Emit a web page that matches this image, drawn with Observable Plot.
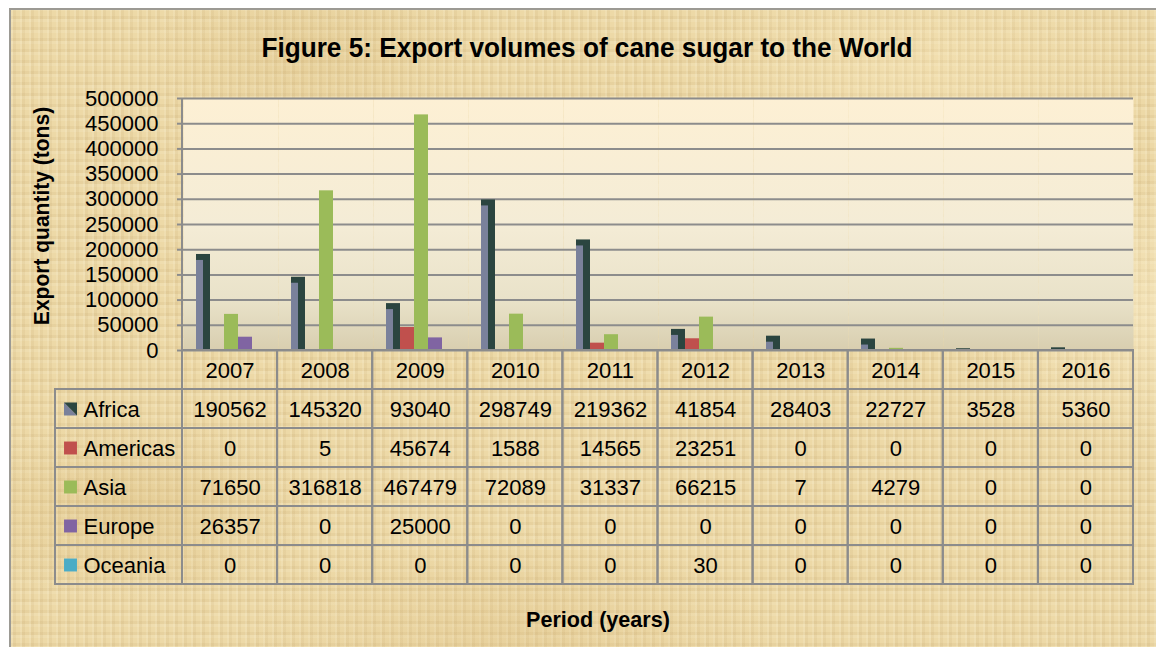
<!DOCTYPE html>
<html>
<head>
<meta charset="utf-8">
<script src="https://cdn.jsdelivr.net/npm/d3@7"></script>
<script src="https://cdn.jsdelivr.net/npm/@observablehq/plot@0.6"></script>
<style>
  html, body { margin: 0; padding: 0; background: #fff; }
  #wrap { position: relative; width: 1156px; height: 647px; overflow: hidden; background: #fff;
    font-family: "Liberation Sans", Arial, sans-serif; }
  #paper { position: absolute; left: 9px; top: 8px; width: 1160px; height: 650px;
    border-left: 2px solid #9c9a94; border-top: 2px solid #9c9a94;
    background-color: #edd9a7;
    background-image:
      radial-gradient(ellipse 180px 90px at 120px 500px, rgba(205,170,100,0.25), transparent),
      radial-gradient(ellipse 220px 120px at 900px 60px, rgba(255,240,200,0.25), transparent),
      radial-gradient(ellipse 200px 140px at 1140px 300px, rgba(255,245,215,0.35), transparent),
      radial-gradient(ellipse 260px 100px at 500px 620px, rgba(210,175,110,0.2), transparent),
      radial-gradient(ellipse 160px 80px at 300px 40px, rgba(200,165,95,0.18), transparent),
      repeating-linear-gradient(90deg, rgba(255,250,230,0.14) 0 2px, rgba(150,110,50,0.07) 2px 5px, transparent 5px 9px),
      repeating-linear-gradient(0deg, rgba(255,250,230,0.12) 0 3px, rgba(150,110,50,0.07) 3px 6px, transparent 6px 11px);
  }
  .abs { position: absolute; }
  #title { left: 587px; top: 48px; transform: translate(-50%, -50%) scaleX(0.935); white-space: nowrap;
    font-weight: bold; font-size: 28px; color: #000; }
  #ytitle { left: 42px; top: 216px; transform: translate(-50%, -50%) rotate(-90deg) scaleX(0.955); white-space: nowrap;
    font-weight: bold; font-size: 22px; color: #000; }
  #xtitle { left: 598px; top: 620px; transform: translate(-50%, -50%) scaleX(0.98); white-space: nowrap;
    font-weight: bold; font-size: 22px; color: #000; }
  #chart, #table { position: absolute; left: 0; }
  #chart { top: 0; }
  #table { top: 348px; }
</style>
</head>
<body>
<div id="wrap">
  <div id="paper"></div>
  <div id="chart"></div>
  <div id="table"></div>
  <div id="title" class="abs">Figure 5: Export volumes of cane sugar to the World</div>
  <div id="ytitle" class="abs">Export quantity (tons)</div>
  <div id="xtitle" class="abs">Period (years)</div>
</div>
<script>
// ---- data ----
const years = ["2007","2008","2009","2010","2011","2012","2013","2014","2015","2016"];
const series = ["Africa","Americas","Asia","Europe","Oceania"];
const africa   = [190562,145320,93040,298749,219362,41854,28403,22727,3528,5360];
const americas = [0,5,45674,1588,14565,23251,0,0,0,0];
const asia     = [71650,316818,467479,72089,31337,66215,7,4279,0,0];
const europe   = [26357,0,25000,0,0,0,0,0,0,0];
const oceania  = [0,0,0,0,0,30,0,0,0,0];
const yTicks = [0,50000,100000,150000,200000,250000,300000,350000,400000,450000,500000];

const seriesColors = ["#2b4540","#c0504d","#9bbb59","#8064a2","#4bacc6"];
const africaLight = "#7a819b";
const gridColor = "#8c8c8c";
const FONT = '"Liberation Sans", Arial, sans-serif';

const valuesBySeries = {Africa: africa, Americas: americas, Asia: asia, Europe: europe, Oceania: oceania};
const rows = [];
series.forEach(s => years.forEach((yr, i) => rows.push({series: s, year: yr, i, value: valuesBySeries[s][i]})));
const africaRows = rows.filter(d => d.series === "Africa");
const otherRows = rows.filter(d => d.series !== "Africa");

// ---- chart ----
const chart = Plot.plot({
  width: 1156,
  height: 352,
  marginLeft: 182,
  marginRight: 23,
  marginTop: 98,
  marginBottom: 2,
  style: {fontFamily: FONT, background: "transparent", overflow: "visible"},
  fx: {domain: years, padding: 0, axis: null},
  x: {domain: series, paddingInner: 0, paddingOuter: 0.75, axis: null},
  y: {domain: [0, 500000], axis: null},
  color: {domain: series, range: seriesColors},
  marks: [
    Plot.frame({fill: "url(#plotgrad)", stroke: "none"}),
    Plot.gridY(yTicks, {stroke: gridColor, strokeOpacity: 1, strokeWidth: 2}),
    Plot.axisY({ticks: yTicks, tickSize: 6, tickPadding: 19, stroke: gridColor, strokeWidth: 2,
      fill: "#000", fontSize: 22, label: null, tickFormat: d => String(d)}),
    Plot.barY(otherRows, {fx: "year", x: "series", y: "value", fill: "series"}),
    Plot.barY(africaRows, {fx: "year", x: "series", y: "value", fill: seriesColors[0]}),
    Plot.barY(africaRows, {fx: "year", x: "series", y: "value", fill: africaLight, insetRight: 7, insetTop: 6})
  ]
});
// vertical gradient for plot area
const svgNS = "http://www.w3.org/2000/svg";
const defs = document.createElementNS(svgNS, "defs");
defs.innerHTML = `<linearGradient id="plotgrad" x1="0" y1="0" x2="0" y2="1">
  <stop offset="0" stop-color="#fdf0d4"/>
  <stop offset="0.5" stop-color="#f4ecd6"/>
  <stop offset="0.8" stop-color="#e9e2c9"/>
  <stop offset="1" stop-color="#d8ceaf"/></linearGradient>`;
chart.insertBefore(defs, chart.firstChild);
document.getElementById("chart").appendChild(chart);
// left edge of the plot area
d3.select(chart).append("line")
  .attr("x1", 182).attr("x2", 182).attr("y1", 98).attr("y2", 351)
  .attr("stroke", gridColor).attr("stroke-width", 2);

// ---- data table ----
const LW = 127 / 95.1; // width of the legend column in year units
const rowKeys = ["hdr", ...series];
const cells = [];
years.forEach((yr, i) => cells.push({row: "hdr", i0: i, i1: i + 1, label: yr}));
rows.forEach(d => cells.push({row: d.series, i0: d.i, i1: d.i + 1, label: String(d.value)}));
const legendCells = series.map(s => ({row: s, i0: -LW, i1: 0, label: s}));

const triLower = {draw(ctx, size) { const w = Math.sqrt(size) / 2; ctx.moveTo(-w, -w); ctx.lineTo(w, w); ctx.lineTo(-w, w); ctx.closePath(); }};
const triUpper = {draw(ctx, size) { const w = Math.sqrt(size) / 2; ctx.moveTo(-w, -w); ctx.lineTo(w, -w); ctx.lineTo(w, w); ctx.closePath(); }};

const table = Plot.plot({
  width: 1156,
  height: 238,
  marginLeft: 55,
  marginRight: 23,
  marginTop: 2,
  marginBottom: 2,
  style: {fontFamily: FONT, background: "transparent", overflow: "visible"},
  x: {domain: [-LW, years.length], axis: null},
  y: {domain: rowKeys, padding: 0, axis: null},
  marks: [
    Plot.barX([...cells, ...legendCells], {x1: "i0", x2: "i1", y: "row", fill: "none", stroke: gridColor, strokeWidth: 2}),
    Plot.text(cells, {x: d => (d.i0 + d.i1) / 2, y: "row", text: "label", fontSize: 22, fill: "#000", dy: 1}),
    Plot.text(legendCells, {x: "i0", y: "row", text: "label", textAnchor: "start", dx: 28, fontSize: 22, fill: "#000", dy: 1}),
    Plot.dot(series.slice(1), {x: -LW, y: d => d, dx: 15, symbol: "square", r: 7.3, fill: d => seriesColors[series.indexOf(d)], stroke: "none"}),
    Plot.dot(["Africa"], {x: -LW, y: d => d, dx: 15, symbol: triLower, r: 7.3, fill: africaLight, stroke: "none"}),
    Plot.dot(["Africa"], {x: -LW, y: d => d, dx: 15, symbol: triUpper, r: 7.3, fill: seriesColors[0], stroke: "none"})
  ]
});
document.getElementById("table").appendChild(table);
</script>
</body>
</html>
